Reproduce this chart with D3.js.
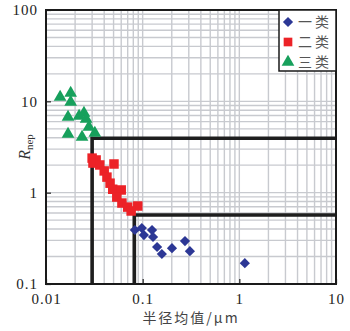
<!DOCTYPE html>
<html>
<head>
<meta charset="utf-8">
<script src="https://cdn.jsdelivr.net/npm/d3@7"></script>
<style>
  body { margin: 0; background: #fff; }
  .tick text { font-family: "Liberation Serif", "DejaVu Serif", serif; font-size: 15px; fill: #222; letter-spacing: 1px; }
</style>
</head>
<body>
<svg id="chart" width="350" height="331"></svg>
<script>
// series: [radius mean (um), R_nep]
let classOne = [
  [0.083, 0.39], [0.098, 0.41], [0.103, 0.343], [0.125, 0.389], [0.128, 0.327],
  [0.141, 0.254], [0.158, 0.213], [0.201, 0.247], [0.274, 0.295], [0.308, 0.229],
  [1.14, 0.169]
];
let classTwo = [
  [0.030, 2.39], [0.033, 2.28], [0.0306, 2.11], [0.036, 2.01], [0.0505, 2.06],
  [0.040, 1.73], [0.0427, 1.48], [0.046, 1.27], [0.049, 1.09], [0.060, 1.07],
  [0.054, 0.895], [0.061, 0.77], [0.070, 0.695], [0.089, 0.714], [0.076, 0.63]
];
let classThree = [
  [0.014, 11.1], [0.018, 12.3], [0.018, 9.8], [0.0169, 6.73], [0.022, 6.9],
  [0.0247, 7.45], [0.026, 6.4], [0.0278, 5.23], [0.032, 4.5], [0.0169, 4.38],
  [0.0236, 4.06]
];
// class boundaries (corner x, corner y)
let boundaries = [[0.03, 3.95], [0.082, 0.57]];

let xTicks = [0.01, 0.1, 1, 10];
let yTicks = [0.1, 1, 10, 100];
let legendNames = ["一类", "二类", "三类"];

let width = 350, height = 331,
    mLeft = 46, mTop = 10, mRight = 14, mBottom = 47;
let w = width - mLeft - mRight, h = height - mTop - mBottom;

let svg = d3.select("#chart");
let g = svg.append("g").attr("transform", "translate(" + [mLeft, mTop] + ")");

let xScale = d3.scaleLog().domain([0.01, 10]).range([0, w]);
let yScale = d3.scaleLog().domain([0.1, 100]).range([h, 0]);

// log grid
g.append("g").selectAll("line").data(xScale.ticks())
  .enter().append("line")
  .attr("x1", d => xScale(d)).attr("x2", d => xScale(d))
  .attr("y1", 0).attr("y2", h)
  .attr("stroke", "#c8cacf").attr("stroke-width", 1.4);
g.append("g").selectAll("line").data(yScale.ticks())
  .enter().append("line")
  .attr("y1", d => yScale(d)).attr("y2", d => yScale(d))
  .attr("x1", 0).attr("x2", w)
  .attr("stroke", "#c8cacf").attr("stroke-width", 1.4);

// boundary steps
let step = d3.line().x(d => xScale(d[0])).y(d => yScale(d[1]));
boundaries.forEach(function (b) {
  g.append("path")
    .attr("d", step([[b[0], 0.1], [b[0], b[1]], [10, b[1]]]))
    .attr("fill", "none").attr("stroke", "#1e1e1e").attr("stroke-width", 3.6);
});

// axes
let xAxis = d3.axisBottom(xScale).tickValues(xTicks).tickFormat(d => d)
  .tickSizeInner(-5).tickSizeOuter(0).tickPadding(9);
let yAxis = d3.axisLeft(yScale).tickValues(yTicks).tickFormat(d => d)
  .tickSizeInner(-5).tickSizeOuter(0).tickPadding(8);
let xg = g.append("g").attr("transform", "translate(0," + h + ")").call(xAxis);
let yg = g.append("g").call(yAxis);
xg.select(".domain").remove();
yg.select(".domain").remove();
xg.selectAll(".tick line").attr("stroke", "#222").attr("stroke-width", 1.2);
yg.selectAll(".tick line").attr("stroke", "#222").attr("stroke-width", 1.2);

// markers
let diamond = d3.symbol().type(d3.symbolSquare).size(52);
let square = d3.symbol().type(d3.symbolSquare).size(90);
let triangle = d3.symbol().type(d3.symbolTriangle).size(70);

g.append("g").selectAll("path").data(classThree)
  .enter().append("path")
  .attr("d", triangle)
  .attr("transform", d => "translate(" + [xScale(d[0]), yScale(d[1])] + ")")
  .attr("fill", "#17a05c");
g.append("g").selectAll("path").data(classTwo)
  .enter().append("path")
  .attr("d", square)
  .attr("transform", d => "translate(" + [xScale(d[0]), yScale(d[1])] + ")")
  .attr("fill", "#ec2227");
g.append("g").selectAll("path").data(classOne)
  .enter().append("path")
  .attr("d", diamond)
  .attr("transform", d => "translate(" + [xScale(d[0]), yScale(d[1])] + ") rotate(45)")
  .attr("fill", "#2c3795");

// frame
g.append("rect").attr("width", w).attr("height", h)
  .attr("fill", "none").attr("stroke", "#1a1a1a").attr("stroke-width", 2);

// legend
let lg = g.append("g").attr("transform", "translate(" + [w - 57, 0] + ")");
lg.append("rect").attr("width", 57).attr("height", 61)
  .attr("fill", "#fff").attr("stroke", "#1a1a1a").attr("stroke-width", 1.5);
let legendSymbols = [
  [diamond, "#2c3795", 45],
  [d3.symbol().type(d3.symbolSquare).size(75), "#ec2227", 0],
  [triangle, "#17a05c", 0]
];
legendNames.forEach(function (name, i) {
  let s = legendSymbols[i];
  lg.append("path").attr("d", s[0])
    .attr("transform", "translate(" + [9, 12 + i * 20] + ") rotate(" + s[2] + ")")
    .attr("fill", s[1]);
  lg.append("text").attr("x", 19).attr("y", 17 + i * 20)
    .attr("font-family", "Noto Sans CJK SC").attr("font-size", 14)
    .attr("letter-spacing", 3).attr("fill", "#555")
    .text(name);
});

// axis titles
svg.append("text").attr("x", mLeft + w / 2).attr("y", 323)
  .attr("text-anchor", "middle")
  .attr("font-family", "Noto Sans CJK SC").attr("font-size", 14)
  .attr("letter-spacing", 2).attr("fill", "#444")
  .text("半径均值/μm");

let yl = svg.append("text")
  .attr("transform", "translate(30," + (mTop + h / 2) + ") rotate(-90)")
  .attr("text-anchor", "middle")
  .attr("font-family", "Liberation Serif").attr("fill", "#333");
yl.append("tspan").attr("font-style", "italic").attr("font-size", 16).text("R");
yl.append("tspan").attr("font-size", 11).attr("dy", 3).text("nep");
</script>
</body>
</html>
